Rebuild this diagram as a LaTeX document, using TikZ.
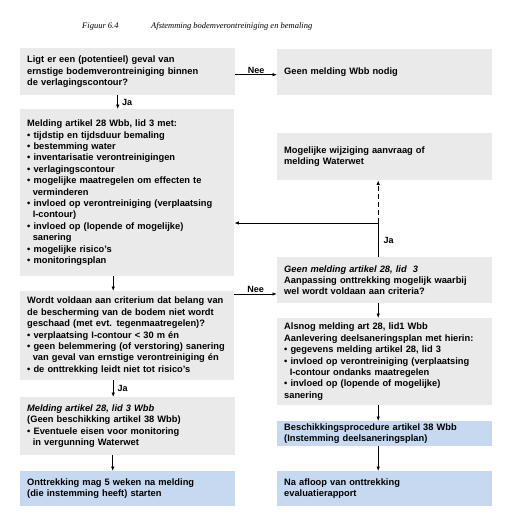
\documentclass[tikz,border=0pt]{standalone}
\usepackage{fontspec}
\setmainfont{Liberation Sans}
\newfontfamily\capfont{Liberation Serif}
\usetikzlibrary{arrows.meta,calc}
\definecolor{boxgray}{RGB}{234,234,234}
\definecolor{boxblue}{RGB}{198,217,241}
\newcommand{\bul}{\textbullet\ }
\newcommand{\ind}{\hspace*{0.6em}}
\tikzset{
  box/.style={anchor=north west, fill=boxgray, draw=none, inner xsep=7pt, inner ysep=2pt,
    align=left, font=\fontsize{9.3}{11.4}\selectfont\bfseries},
  bluebox/.style={box, fill=boxblue},
  arr/.style={-{Latex[length=4.5pt,width=3.5pt]}, line width=0.8pt},
  ln/.style={line width=0.8pt},
  lbl/.style={font=\fontsize{9}{10}\selectfont\bfseries, inner sep=1pt},
  captxt/.style={font=\capfont\itshape\fontsize{8.5}{9}\selectfont, anchor=base west, inner sep=0pt}
}
\begin{document}
\begin{tikzpicture}[x=1pt,y=-1pt]
\useasboundingbox (0,0) rectangle (507,527);
\node[captxt] (c1) at (82,29) {Figuur 6.4};
\node[captxt] (c2) at (151,29) {Afstemming bodemverontreiniging en bemaling};

\node[box, minimum width=215pt, minimum height=47pt, text width=201pt] (b1) at (20,48)
 {Ligt er een (potentieel) geval van\\ernstige bodemverontreiniging binnen\\de verlagingscontour?};
\node[box, minimum width=215pt, minimum height=46pt, text width=201pt] (r1) at (277,49)
 {Geen melding Wbb nodig};

\node[box, minimum width=214pt, minimum height=167pt, text width=200pt] (b2) at (20,109)
 {Melding artikel 28 Wbb, lid 3 met:\\
 \bul tijdstip en tijdsduur bemaling\\
 \bul bestemming water\\
 \bul inventarisatie verontreinigingen\\
 \bul verlagingscontour\\
 \bul mogelijke maatregelen om effecten te\\
 \ind verminderen\\
 \bul invloed op verontreiniging (verplaatsing\\
 \ind I-contour)\\
 \bul invloed op (lopende of mogelijke)\\
 \ind sanering\\
 \bul mogelijke risico’s\\
 \bul monitoringsplan};

\node[box, minimum width=214pt, minimum height=89pt, text width=200pt] (b3) at (20,291)
 {Wordt voldaan aan criterium dat belang van\\
 de bescherming van de bodem niet wordt\\
 geschaad (met evt. tegenmaatregelen)?\\
 \bul verplaatsing I-contour < 30 m én\\
 \bul geen belemmering (of verstoring) sanering\\
 \ind van geval van ernstige verontreiniging én\\
 \bul de onttrekking leidt niet tot risico’s};

\node[box, minimum width=215pt, minimum height=58pt, text width=201pt] (b4) at (20,397)
 {\textit{Melding artikel 28, lid 3 Wbb}\\
 (Geen beschikking artikel 38 Wbb)\\
 \bul Eventuele eisen voor monitoring\\
 \ind in vergunning Waterwet};

\node[bluebox, minimum width=215pt, minimum height=35pt, text width=201pt] (b5) at (20,471)
 {Onttrekking mag 5 weken na melding\\(die instemming heeft) starten};

\node[box, minimum width=215pt, minimum height=47pt, text width=201pt] (m) at (277,133)
 {Mogelijke wijziging aanvraag of\\melding Waterwet};

\node[box, minimum width=215pt, minimum height=46pt, text width=201pt] (b6) at (277,257)
 {\textit{Geen melding artikel 28, lid~ 3}\\
 Aanpassing onttrekking mogelijk waarbij\\wel wordt voldaan aan criteria?};

\node[box, minimum width=215pt, minimum height=87pt, text width=201pt] (b7) at (277,318)
 {Alsnog melding art 28, lid1 Wbb\\
 Aanlevering deelsaneringsplan met hierin:\\
 \bul gegevens melding artikel 28, lid 3\\
 \bul invloed op verontreiniging (verplaatsing\\
 \ind I-contour ondanks maatregelen\\
 \bul invloed op (lopende of mogelijke)\\
 sanering};

\node[bluebox, minimum width=215pt, minimum height=25pt, text width=201pt] (b8) at (277,421)
 {Beschikkingsprocedure artikel 38 Wbb\\(Instemming deelsaneringsplan)};

\node[bluebox, minimum width=215pt, minimum height=35pt, text width=201pt] (b9) at (277,471)
 {Na afloop van onttrekking\\evaluatierapport};

% connectors
\coordinate (n1) at ([yshift=-3pt]b1.east);
\draw[arr] (n1) -- (n1 -| r1.west) node[lbl, midway, above] (nee1) {Nee};

\draw[arr] ([xshift=-10pt]b1.south) -- ([xshift=-10pt]b1.south |- b2.north) node[lbl, midway, right=3pt] (ja1) {Ja};
\draw[arr] ([xshift=-14pt]b2.south) -- ([xshift=-14pt]b2.south |- b3.north);
\draw[arr] ([xshift=-14pt]b3.south) -- ([xshift=-14pt]b3.south |- b4.north) node[lbl, midway, right=3pt] (ja2) {Ja};
\draw[arr] ([xshift=-15pt]b4.south) -- ([xshift=-15pt]b4.south |- b5.north);

\coordinate (n2) at ([yshift=-3pt]b3.north east);
\draw[arr] (n2) -- (n2 -| b6.west) node[lbl, midway, above] (nee2) {Nee};

\coordinate (j) at ([xshift=-6.5pt]b6.north |- 0,223);
\draw[ln] ([xshift=-6.5pt]b6.north) -- (j) node[lbl, midway, right=4pt] (ja3) {Ja};
\draw[arr] (j) -- (j -| b2.east);
\draw[arr, dashed, dash pattern=on 5pt off 3pt] (j) -- (j |- m.south);

\draw[arr] ([xshift=-6.5pt]b6.south) -- ([xshift=-6.5pt]b6.south |- b7.north);
\draw[arr] ([xshift=-6.5pt]b7.south) -- ([xshift=-6.5pt]b7.south |- b8.north);
\draw[arr] ([xshift=-6.5pt]b8.south) -- ([xshift=-6.5pt]b8.south |- b9.north);
\end{tikzpicture}
\end{document}
